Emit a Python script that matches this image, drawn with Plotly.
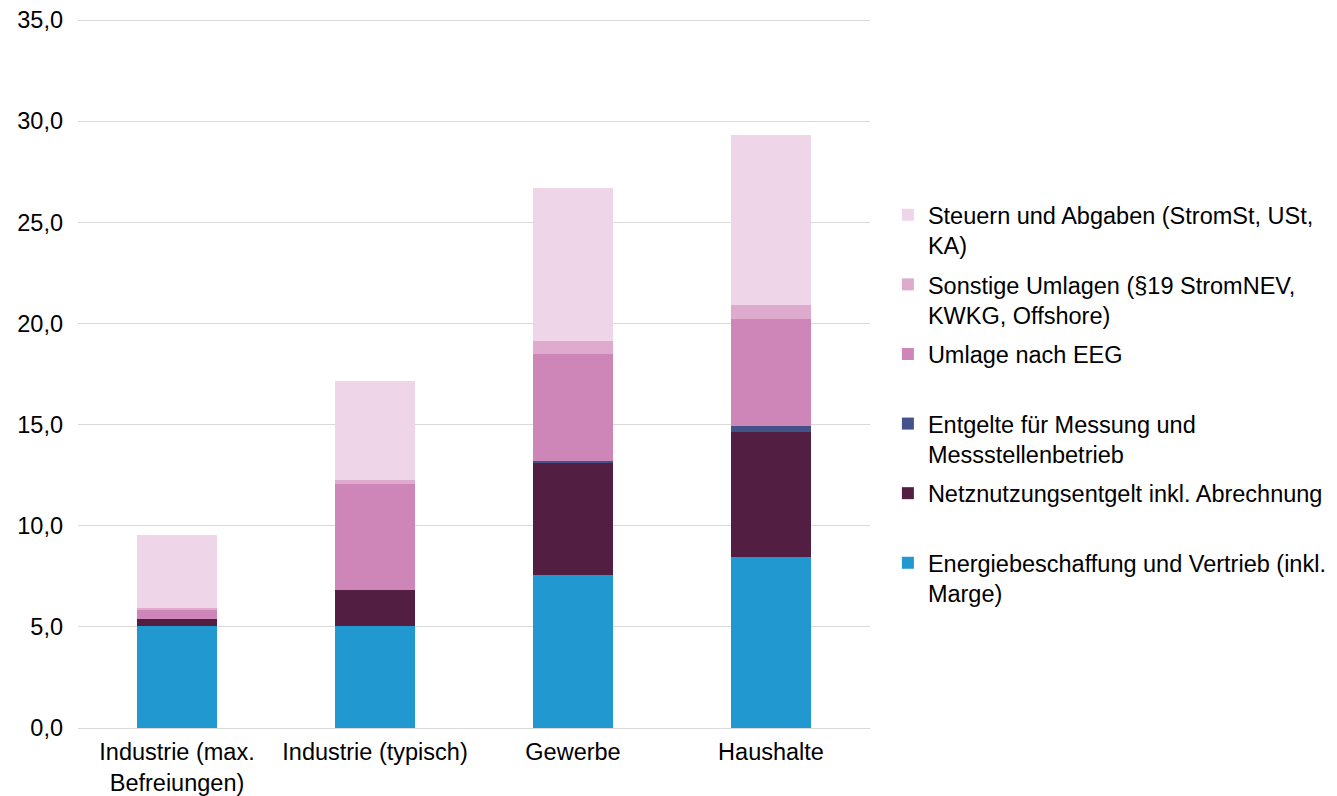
import plotly.graph_objects as go

categories = ["Industrie (max.<br>Befreiungen)", "Industrie (typisch)", "Gewerbe", "Haushalte"]

energie = [5.04, 5.06, 7.56, 8.47]
netz = [0.35, 1.78, 5.52, 6.15]
messung = [0.0, 0.0, 0.12, 0.32]
eeg = [0.44, 5.22, 5.27, 5.26]
sonstige = [0.10, 0.20, 0.68, 0.71]
steuern = [3.61, 4.89, 7.54, 8.40]

series = [
    ("Energiebeschaffung und Vertrieb (inkl.<br>Marge)", energie, "#2199D0"),
    ("Netznutzungsentgelt inkl. Abrechnung<br> ", netz, "#521F43"),
    ("Entgelte für Messung und<br>Messstellenbetrieb", messung, "#435289"),
    ("Umlage nach EEG<br> ", eeg, "#CE85B8"),
    ("Sonstige Umlagen (§19 StromNEV,<br>KWKG, Offshore)", sonstige, "#DEAACD"),
    ("Steuern und Abgaben (StromSt, USt,<br>KA)", steuern, "#EED5E7"),
]

fig = go.Figure()
n = len(series)
for i, (name, vals, color) in enumerate(series):
    fig.add_trace(go.Bar(
        x=categories, y=vals, name=name,
        marker=dict(color=color, line=dict(width=0)),
        legendgroup=f"g{i}",
        legendrank=(n - i) * 10,
    ))

FONT = "Liberation Sans, Arial, sans-serif"
fig.update_layout(
    barmode="stack",
    bargap=0.6,
    width=1337, height=796,
    margin=dict(l=78, r=467, t=16, b=68, autoexpand=False),
    paper_bgcolor="white",
    plot_bgcolor="white",
    separators=", ",
    font=dict(family=FONT, size=23.5, color="#000000"),
    legend=dict(
        x=1.0226, xanchor="left",
        y=0.7514, yanchor="top",
        traceorder="grouped",
        valign="top",
        tracegroupgap=5.5,
        font=dict(family=FONT, size=23.5, color="#000000"),
        itemwidth=30,
    ),
    yaxis=dict(
        range=[0, 35.2],
        tick0=0, dtick=5,
        tickformat=".1f",
        showgrid=True, gridcolor="#D9D9D9", gridwidth=1.3,
        zeroline=False,
        showline=False,
        ticks="",
        ticklabelstandoff=14,
        automargin=False,
        tickfont=dict(family=FONT, size=23.5, color="#000000"),
    ),
    xaxis=dict(
        showline=True, linecolor="#D9D9D9", linewidth=1.3,
        ticks="",
        automargin=False,
        tickfont=dict(family=FONT, size=23.5, color="#000000"),
        ticklabelstandoff=3,
    ),
)

fig.write_html("out.html")
